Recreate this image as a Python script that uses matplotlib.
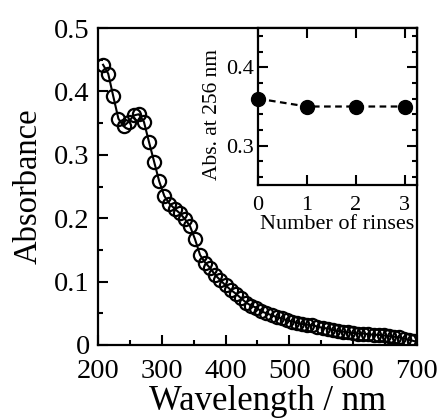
import numpy as np
import matplotlib.pyplot as plt
from matplotlib.ticker import MultipleLocator

plt.rcParams['font.family'] = ['Liberation Serif', 'DejaVu Serif']

# absorption spectrum (open circles)
wl = [208, 216, 224, 232, 240, 248, 256, 264, 272, 280, 288, 296, 304, 312, 320,
      328, 336, 344, 352, 360, 368, 376, 384, 392, 400, 408, 416, 424, 432, 440,
      448, 456, 464, 472, 480, 488, 496, 504, 512, 520, 528, 536, 544, 552, 560,
      568, 576, 584, 592, 600, 608, 616, 624, 632, 640, 648, 656, 664, 672, 680,
      688, 696]
absorb = [0.442, 0.428, 0.392, 0.357, 0.345, 0.352, 0.362, 0.364, 0.352, 0.320,
          0.289, 0.258, 0.235, 0.223, 0.215, 0.208, 0.199, 0.188, 0.167, 0.142,
          0.130, 0.121, 0.110, 0.102, 0.094, 0.087, 0.081, 0.074, 0.067, 0.062,
          0.059, 0.053, 0.050, 0.047, 0.044, 0.042, 0.039, 0.037, 0.035, 0.033,
          0.032, 0.031, 0.029, 0.027, 0.026, 0.024, 0.022, 0.021, 0.020, 0.019,
          0.018, 0.018, 0.017, 0.016, 0.016, 0.015, 0.014, 0.013, 0.012, 0.010,
          0.008, 0.006]

# inset: absorbance at 256 nm vs rinses
rinses = [0, 1, 2, 3]
abs256 = [0.36, 0.35, 0.35, 0.35]

fig = plt.figure(figsize=(4.42, 4.20), dpi=100)
ax = fig.add_axes([0.2217, 0.1786, 0.7217, 0.7547])
ax.plot(wl, absorb, color='black', lw=1.5, marker='o', ms=9.5, mfc='none',
        mec='black', mew=1.6)
ax.set_xlim(200, 700)
ax.set_ylim(0, 0.5)
ax.xaxis.set_major_locator(MultipleLocator(100))
ax.xaxis.set_minor_locator(MultipleLocator(50))
ax.yaxis.set_minor_locator(MultipleLocator(0.05))
ax.set_yticks([0, 0.1, 0.2, 0.3, 0.4, 0.5])
ax.set_yticklabels(['0', '0.1', '0.2', '0.3', '0.4', '0.5'])
ax.tick_params(which='both', direction='in', width=1.5, labelsize=20.5)
ax.tick_params(which='major', length=7)
ax.tick_params(axis='x', pad=10)
ax.tick_params(axis='y', pad=6)
ax.tick_params(which='minor', length=3.5)
for s in ax.spines.values():
    s.set_linewidth(1.6)
ax.set_xlabel('Wavelength / nm', fontsize=25)
ax.xaxis.set_label_coords(0.53, -0.125)
ax.set_ylabel('Absorbance', fontsize=23.5)
ax.yaxis.set_label_coords(-0.17, 0.5)

ins = fig.add_axes([0.5837, 0.5595, 0.3597, 0.3738])
ins.plot(rinses, abs256, color='black', lw=1.6, ls=(0, (3, 2)), marker='o',
         ms=10, clip_on=False, zorder=5)
ins.set_xlim(0, 3.25)
ins.set_ylim(0.25, 0.45)
ins.set_xticks(rinses)
ins.yaxis.set_major_locator(MultipleLocator(0.1))
ins.yaxis.set_minor_locator(MultipleLocator(0.02))
ins.tick_params(which='both', direction='in', width=1.5, labelsize=16,
                top=True, right=True)
ins.tick_params(which='major', length=7)
ins.tick_params(axis='x', pad=8)
ins.tick_params(axis='y', pad=3)
ins.tick_params(which='minor', length=3.5)
for s in ins.spines.values():
    s.set_linewidth(1.6)
ins.set_xlabel('Number of rinses', fontsize=16, labelpad=0)
ins.set_ylabel('Abs. at 256 nm', fontsize=15.5)
ins.yaxis.set_label_coords(-0.225, 0.45)

fig.savefig('out.png', dpi=100)
